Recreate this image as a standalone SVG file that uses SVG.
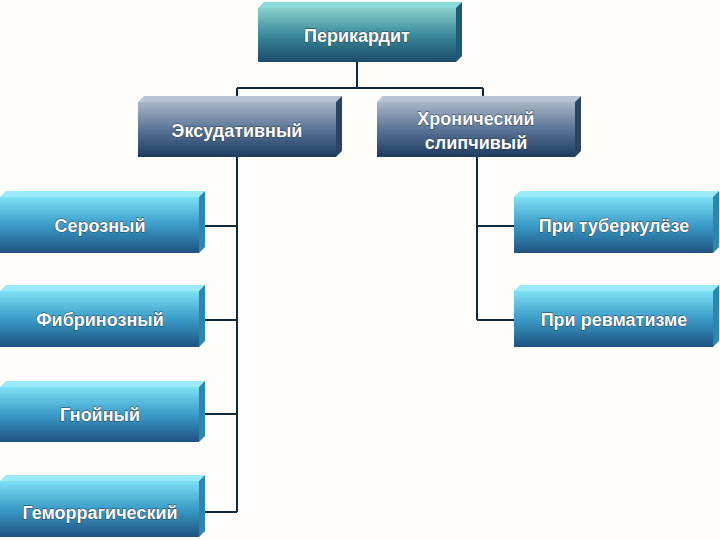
<svg xmlns="http://www.w3.org/2000/svg" width="720" height="540" viewBox="0 0 720 540">
<defs>
<linearGradient id="gRoot" x1="0" y1="0" x2="0" y2="1"><stop offset="0" stop-color="#8ad0cc"/><stop offset="0.5" stop-color="#3a8a9a"/><stop offset="1" stop-color="#1c4a6a"/></linearGradient>
<linearGradient id="gMid" x1="0" y1="0" x2="0" y2="1"><stop offset="0" stop-color="#aab6c8"/><stop offset="0.5" stop-color="#5a7496"/><stop offset="1" stop-color="#1c3a60"/></linearGradient>
<linearGradient id="gLeaf" x1="0" y1="0" x2="0" y2="1"><stop offset="0" stop-color="#7ee0f4"/><stop offset="0.5" stop-color="#3a9cc8"/><stop offset="1" stop-color="#1e5280"/></linearGradient>
</defs>
<style>
text{font-family:"Liberation Sans",Arial,sans-serif;font-size:18px;font-weight:bold;fill:#fff;text-anchor:middle;stroke:#2a3a4a;stroke-width:0.8;paint-order:stroke}
.t{fill:#8adada}.s{fill:#1e5a78}
.tm{fill:#b8c4d4}.sm{fill:#2a4462}
.tl{fill:#9aeafa}.sl{fill:#2a88b0}
.c{stroke:#0e2a3e;stroke-width:2;fill:none}
</style>
<rect width="720" height="540" fill="#fffdf9"/>
<g id="connectors">
<path class="c" d="M357 62V88M237 88H483M237 88V96M483 88V96"/>
<path class="c" d="M237 157V512M205 226H237M205 320H237M205 414H237M205 512H237"/>
<path class="c" d="M477 157V320M477 226H514M477 320H514"/>
</g>
<g id="n-root"><polygon class="t" points="258,8 264,2 462,2 456,8"/><polygon class="s" points="456,8 462,2 462,56 456,62"/><rect x="258" y="8" width="198" height="54" fill="url(#gRoot)"/><text x="357" y="42">Перикардит</text></g>
<g id="n-exud"><polygon class="tm" points="138,102 144,96 342,96 336,102"/><polygon class="sm" points="336,102 342,96 342,151 336,157"/><rect x="138" y="102" width="198" height="55" fill="url(#gMid)"/><text x="237" y="137">Эксудативный</text></g>
<g id="n-chron"><polygon class="tm" points="377,102 383,96 581,96 575,102"/><polygon class="sm" points="575,102 581,96 581,151 575,157"/><rect x="377" y="102" width="198" height="55" fill="url(#gMid)"/><text x="476" y="125">Хронический</text><text x="476" y="149">слипчивый</text></g>
<g id="n-ser"><polygon class="tl" points="0,197 6,191 205,191 199,197"/><polygon class="sl" points="199,197 205,191 205,247 199,253"/><rect x="0" y="197" width="199" height="56" fill="url(#gLeaf)"/><text x="100" y="232">Серозный</text></g>
<g id="n-fib"><polygon class="tl" points="0,291 6,285 205,285 199,291"/><polygon class="sl" points="199,291 205,285 205,341 199,347"/><rect x="0" y="291" width="199" height="56" fill="url(#gLeaf)"/><text x="100" y="326">Фибринозный</text></g>
<g id="n-gno"><polygon class="tl" points="0,387 6,381 205,381 199,387"/><polygon class="sl" points="199,387 205,381 205,436 199,442"/><rect x="0" y="387" width="199" height="55" fill="url(#gLeaf)"/><text x="100" y="421">Гнойный</text></g>
<g id="n-gem"><polygon class="tl" points="0,481 6,475 205,475 199,481"/><polygon class="sl" points="199,481 205,475 205,531 199,537"/><rect x="0" y="481" width="199" height="56" fill="url(#gLeaf)"/><text x="100" y="519">Геморрагический</text></g>
<g id="n-tub"><polygon class="tl" points="514,197 520,191 719,191 713,197"/><polygon class="sl" points="713,197 719,191 719,247 713,253"/><rect x="514" y="197" width="199" height="56" fill="url(#gLeaf)"/><text x="614" y="232">При туберкулёзе</text></g>
<g id="n-rev"><polygon class="tl" points="514,291 520,285 719,285 713,291"/><polygon class="sl" points="713,291 719,285 719,341 713,347"/><rect x="514" y="291" width="199" height="56" fill="url(#gLeaf)"/><text x="614" y="326">При ревматизме</text></g>
</svg>
